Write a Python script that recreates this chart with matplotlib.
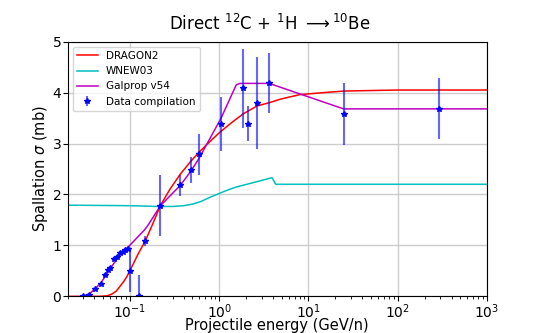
import matplotlib
matplotlib.use("Agg")
import matplotlib.pyplot as plt

# data compilation (energy GeV/n, sigma mb, error mb)
data_E = [0.030, 0.0352, 0.0411, 0.048, 0.0523, 0.057, 0.0601, 0.0659, 0.0719,
          0.0783, 0.0839, 0.089, 0.0945, 0.0995, 0.128, 0.149, 0.219, 0.367,
          0.483, 0.594, 1.05, 1.85, 2.08, 2.67, 3.63, 24.7, 292.0]
data_sig = [0.0, 0.03, 0.14, 0.24, 0.42, 0.52, 0.56, 0.73, 0.77,
            0.86, 0.87, 0.91, 0.93, 0.50, 0.0, 1.09, 1.78, 2.18,
            2.48, 2.79, 3.39, 4.08, 3.39, 3.79, 4.18, 3.58, 3.68]
data_err = [0.02, 0.02, 0.03, 0.03, 0.03, 0.03, 0.03, 0.04, 0.04,
            0.04, 0.04, 0.04, 0.04, 0.42, 0.42, 0.10, 0.60, 0.21,
            0.25, 0.40, 0.53, 0.78, 0.34, 0.90, 0.59, 0.60, 0.60]

# DRAGON2
dragon_E = [0.02, 0.045, 0.055, 0.062, 0.07, 0.077, 0.085, 0.092, 0.0995, 0.11,
            0.125, 0.149, 0.18, 0.219, 0.28, 0.367, 0.48, 0.61, 0.8, 1.03,
            1.4, 1.85, 2.67, 3.63, 4.82, 8.0, 15.0, 25.0, 50.0, 100.0, 1000.0]
dragon_sig = [0.0, 0.0, 0.01, 0.04, 0.1, 0.19, 0.29, 0.38, 0.5, 0.65,
              0.85, 1.09, 1.42, 1.78, 2.1, 2.4, 2.65, 2.85, 3.05, 3.23,
              3.42, 3.58, 3.74, 3.8, 3.87, 3.96, 4.0, 4.03, 4.04, 4.05, 4.05]

# WNEW03
wnew_E = [0.02, 0.1, 0.2, 0.3, 0.4, 0.5, 0.62, 0.8, 1.0, 1.3, 1.58, 2.5,
          3.9, 4.3, 1000.0]
wnew_sig = [1.79, 1.78, 1.765, 1.765, 1.78, 1.81, 1.86, 1.95, 2.02, 2.1, 2.15,
            2.24, 2.33, 2.2, 2.2]

# Galprop v54
galprop_E = [0.0295, 0.0352, 0.041, 0.048, 0.0523, 0.057, 0.065, 0.072, 0.08,
             0.09, 0.0995, 0.12, 0.145, 0.16, 0.22, 0.367, 0.483, 0.6, 1.05,
             1.55, 1.7, 3.63, 24.7, 1000.0]
galprop_sig = [0.0, 0.05, 0.15, 0.28, 0.38, 0.48, 0.63, 0.74, 0.84,
               0.93, 1.0, 1.15, 1.3, 1.4, 1.78, 2.18, 2.46, 2.72, 3.5,
               4.15, 4.18, 4.18, 3.68, 3.68]

fig = plt.figure(figsize=(5.4, 3.33), dpi=100)
ax = fig.add_axes([0.125, 0.11, 0.777, 0.765])

ax.plot(dragon_E, dragon_sig, color="red", lw=1.1, label="DRAGON2")
ax.plot(wnew_E, wnew_sig, color="c", lw=1.1, label="WNEW03")
ax.plot(galprop_E, galprop_sig, color="m", lw=1.1, label="Galprop v54")
ax.errorbar(data_E, data_sig, yerr=data_err, fmt="*", color="blue", ms=4,
            ecolor=(0, 0, 1, 0.6), elinewidth=1.5, label="Data compilation")

ax.set_xscale("log")
ax.set_xlim(0.02, 1000)
ax.set_ylim(0, 5)
ax.set_yticks([0, 1, 2, 3, 4, 5])
ax.grid(True, which="major", color="#cccccc", lw=1)
ax.tick_params(labelsize=10, pad=1)
ax.set_xlabel("Projectile energy (GeV/n)", fontsize=10.5)
ax.xaxis.set_label_coords(0.5, -0.086)
ax.set_ylabel(r"Spallation $\sigma$ (mb)", fontsize=10.5, labelpad=2)
fig.text(0.5, 0.91, r"Direct $^{12}$C + $^{1}$H $\longrightarrow$$^{10}$Be",
         fontsize=12, ha="center", va="baseline")
ax.legend(loc="upper left", fontsize=7.5)

fig.savefig("out.png", dpi=100)
